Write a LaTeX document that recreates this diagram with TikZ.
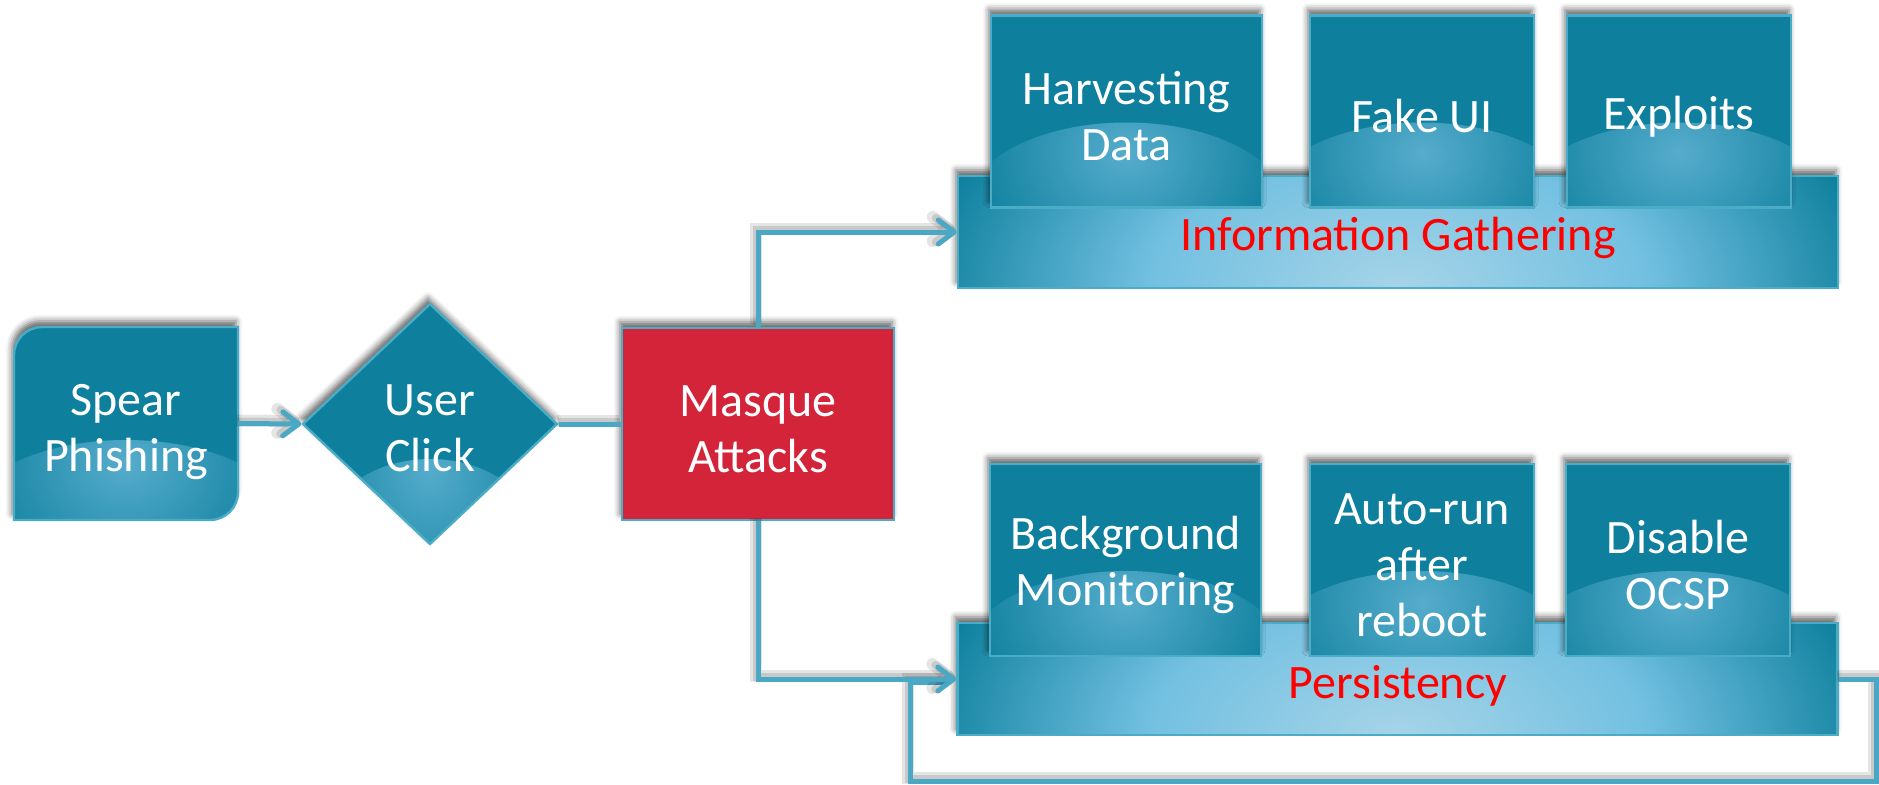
\documentclass[tikz,border=0pt]{standalone}
\usepackage{fontspec}
\setmainfont{Carlito}
\usetikzlibrary{shapes.geometric,arrows.meta,shadows.blur}
\definecolor{boxteal}{RGB}{14,128,158}
\definecolor{edgeblue}{RGB}{75,172,198}
\definecolor{connblue}{RGB}{74,168,196}
\definecolor{masquered}{RGB}{212,36,58}
\definecolor{glowA}{RGB}{86,172,204}
\definecolor{baseC}{RGB}{166,212,232}
\definecolor{baseM}{RGB}{114,192,225}
\pgfdeclareradialshading{boxglow}{\pgfpoint{0bp}{0bp}}{color(0bp)=(glowA); color(25bp)=(boxteal); color(50bp)=(boxteal)}
\pgfdeclareradialshading{baseglow}{\pgfpoint{0bp}{0bp}}{color(0bp)=(baseC); color(13bp)=(baseM); color(25bp)=(boxteal); color(50bp)=(boxteal)}
\begin{document}
\begin{tikzpicture}[x=0.5pt,y=0.5pt,
  font=\fontsize{24}{28}\selectfont,
  shad/.style={blur shadow={shadow xshift=-1pt, shadow yshift=3pt, shadow blur radius=3pt, shadow opacity=60}},
  tealbox/.style={rectangle, draw=edgeblue, line width=1.2pt, fill=boxteal, inner sep=0pt, shad,
    path picture={\shade[shading=boxglow] (path picture bounding box.south) ellipse (160 and 85);}},
  narrowbox/.style={tealbox, minimum width=112pt, minimum height=96pt},
  widebox/.style={tealbox, minimum width=135.5pt, minimum height=96pt},
  boxtext/.style={text=white, align=center, inner sep=0pt},
  basebar/.style={rectangle, draw=edgeblue, line width=1.2pt, fill=boxteal, inner sep=0pt, shad,
    minimum width=440pt, minimum height=56pt,
    path picture={\shade[shading=baseglow] (path picture bounding box.south) ellipse (480 and 270);}},
  baselbl/.style={text=red, anchor=base, inner sep=0pt},
  decision/.style={diamond, draw=edgeblue, line width=1.2pt, fill=boxteal, inner sep=0pt,
    minimum width=127.5pt, minimum height=120.5pt, shad,
    path picture={\shade[shading=boxglow] (path picture bounding box.south) ellipse (110 and 85);}},
  redbox/.style={rectangle, draw=edgeblue, line width=1.2pt, fill=masquered, inner sep=0pt,
    minimum width=136pt, minimum height=96pt, shad},
  conn/.style={draw=connblue, line width=2.5pt,
    preaction={draw=black, draw opacity=0.10, line width=6pt, transform canvas={xshift=-1pt, yshift=1.5pt}},
    preaction={draw=black, draw opacity=0.12, line width=4pt, transform canvas={xshift=-0.5pt, yshift=1pt}}},
  arr/.style={-{Straight Barb[length=8pt,width=12pt,round]}}
]
\useasboundingbox (0,0) rectangle (1879,784);

% start node: shape with rounded top-left and bottom-right corners
\path[fill=boxteal, draw=edgeblue, line width=1.2pt, shad,
  path picture={\shade[shading=boxglow] (path picture bounding box.south) ellipse (160 and 80);}]
  (238,457) -- (238,292) arc[start angle=0, end angle=-90, radius=14pt]
  -- (14,264) -- (14,429) arc[start angle=180, end angle=90, radius=14pt] -- cycle;
\node[boxtext, minimum width=112pt, minimum height=96.5pt] (sp) at (126,360.5) {};
\node[boxtext] (spT) at ([yshift=-4.5pt]sp.center) {Spear\\Phishing};

\node[decision] (uc) at (430,360) {};
\node[boxtext] (ucT) at ([yshift=-2pt]uc.center) {User\\Click};
\node[redbox] (ma) at (758,360) {};
\node[boxtext] (maT) at ([yshift=-2.5pt]ma.center) {Masque\\Attacks};

% bases
\node[basebar] (info) at (1398,552) {};
\node[basebar] (pers) at (1397.5,105) {};

% top boxes
\node[widebox] (harv) at (1126.5,672.5) {};
\node[narrowbox] (fake) at (1422,672.5) {};
\node[narrowbox] (expl) at (1679,672.5) {};
\node[boxtext] (harvT) at ([yshift=-2.5pt]harv.center) {Harvesting\\Data};
\node[boxtext] (fakeT) at ([yshift=-2.5pt]fake.center) {Fake UI};
\node[boxtext] (explT) at ([yshift=-2.5pt]expl.center) {Exploits};

% bottom boxes
\node[widebox] (bg) at (1125.5,224) {};
\node[narrowbox] (auto) at (1422,224) {};
\node[narrowbox] (dis) at (1678,224) {};
\node[boxtext] (bgT) at ([yshift=-2.5pt]bg.center) {Background\\Monitoring};
\node[boxtext] (autoT) at ([yshift=-2.5pt]auto.center) {Auto-run\\after\\reboot};
\node[boxtext] (disT) at ([yshift=-2.5pt]dis.center) {Disable\\OCSP};

% labels
\node[baselbl] (infolbl) at (1398,534) {Information Gathering};
\node[baselbl] (perslbl) at (1398,86) {Persistency};

% connectors
\draw[conn, arr] (sp.east) -- (uc.west);
\draw[conn] (uc.east) -- (ma.west);
\draw[conn, arr] (ma.north) |- (info.west);
\coordinate (loopR) at (1876,3);
\coordinate (loopL) at (910,3);
\coordinate (loopT) at (910,102);
\draw[conn] (pers.east) -| (loopR) -- (loopL) -- (loopT) -- ([xshift=-4pt]pers.west |- loopT);
\draw[conn, arr] (ma.south) |- (pers.west);
\end{tikzpicture}
\end{document}
